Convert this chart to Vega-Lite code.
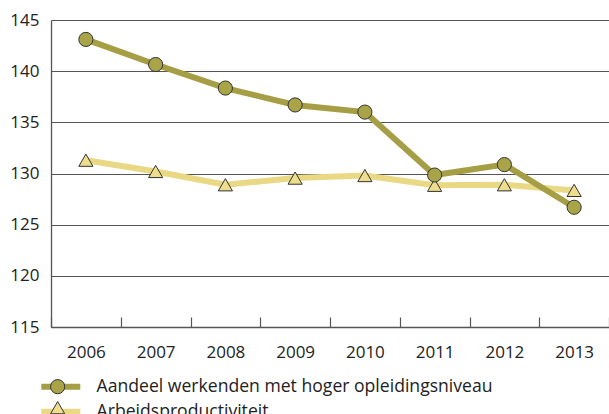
{
  "$schema": "https://vega.github.io/schema/vega-lite/v6.json",
  "width": 558,
  "height": 307,
  "autosize": {"type": "none"},
  "padding": {"left": 51, "top": 20, "right": 0, "bottom": 87},
  "background": "white",
  "config": {
    "view": {"stroke": null},
    "font": "Open Sans",
    "axis": {"labelFont": "Open Sans", "labelFontSize": 17, "labelColor": "#222", "domainColor": "#555", "tickColor": "#555", "domainWidth": 1.3, "tickWidth": 1.2, "title": null},
    "legend": {"labelFont": "Open Sans", "labelFontSize": 17.6, "labelColor": "#222", "title": null, "labelLimit": 600}
  },
  "data": {
    "values": [
      {"year": "2006", "series": "Arbeidsproductiviteit", "value": 131.3},
      {"year": "2007", "series": "Arbeidsproductiviteit", "value": 130.2},
      {"year": "2008", "series": "Arbeidsproductiviteit", "value": 128.9},
      {"year": "2009", "series": "Arbeidsproductiviteit", "value": 129.55},
      {"year": "2010", "series": "Arbeidsproductiviteit", "value": 129.8},
      {"year": "2011", "series": "Arbeidsproductiviteit", "value": 128.85},
      {"year": "2012", "series": "Arbeidsproductiviteit", "value": 128.9},
      {"year": "2013", "series": "Arbeidsproductiviteit", "value": 128.35},
      {"year": "2006", "series": "Aandeel werkenden met hoger opleidingsniveau", "value": 143.1},
      {"year": "2007", "series": "Aandeel werkenden met hoger opleidingsniveau", "value": 140.65},
      {"year": "2008", "series": "Aandeel werkenden met hoger opleidingsniveau", "value": 138.35},
      {"year": "2009", "series": "Aandeel werkenden met hoger opleidingsniveau", "value": 136.7},
      {"year": "2010", "series": "Aandeel werkenden met hoger opleidingsniveau", "value": 136.0},
      {"year": "2011", "series": "Aandeel werkenden met hoger opleidingsniveau", "value": 129.85},
      {"year": "2012", "series": "Aandeel werkenden met hoger opleidingsniveau", "value": 130.87},
      {"year": "2013", "series": "Aandeel werkenden met hoger opleidingsniveau", "value": 126.7}
    ]
  },
  "encoding": {
    "x": {
      "field": "year", "type": "ordinal",
      "scale": {"type": "band", "paddingInner": 0, "paddingOuter": 0},
      "axis": {"labelAngle": 0, "tickBand": "extent", "tickSize": -10, "labelPadding": 27, "grid": false}
    },
    "y": {
      "field": "value", "type": "quantitative",
      "scale": {"domain": [115, 145], "nice": false, "zero": false},
      "axis": {"values": [115, 120, 125, 130, 135, 140, 145], "ticks": false, "grid": true, "gridColor": "#555", "gridWidth": 1.2, "labelPadding": 12, "domain": true}
    }
  },
  "layer": [
    {
      "mark": {"type": "line", "strokeWidth": 6},
      "encoding": {
        "color": {
          "field": "series", "type": "nominal",
          "scale": {"domain": ["Aandeel werkenden met hoger opleidingsniveau", "Arbeidsproductiviteit"], "range": ["#a59e45", "#e9d985"]},
          "legend": {"orient": "none", "legendX": 1, "legendY": 358, "symbolType": "M-3.9,0H3.9", "symbolSize": 100, "symbolStrokeWidth": 6, "labelOffset": 27, "rowPadding": 0}
        },
        "order": {"field": "series", "sort": "descending"}
      }
    },
    {
      "mark": {"type": "point", "filled": true, "size": 200, "stroke": "#333", "strokeWidth": 1, "opacity": 1},
      "encoding": {
        "fill": {
          "field": "series", "type": "nominal",
          "scale": {"range": ["#aaa448", "#eedd8e"]},
          "legend": {"orient": "none", "legendX": -2, "legendY": 358, "symbolSize": 200, "symbolStrokeColor": "#333", "symbolStrokeWidth": 1, "symbolOpacity": 1, "labelOpacity": 0, "labelFontSize": 17.3}
        },
        "shape": {
          "field": "series", "type": "nominal",
          "scale": {"range": ["circle", "triangle-up"]}
        }
      }
    }
  ]
}
